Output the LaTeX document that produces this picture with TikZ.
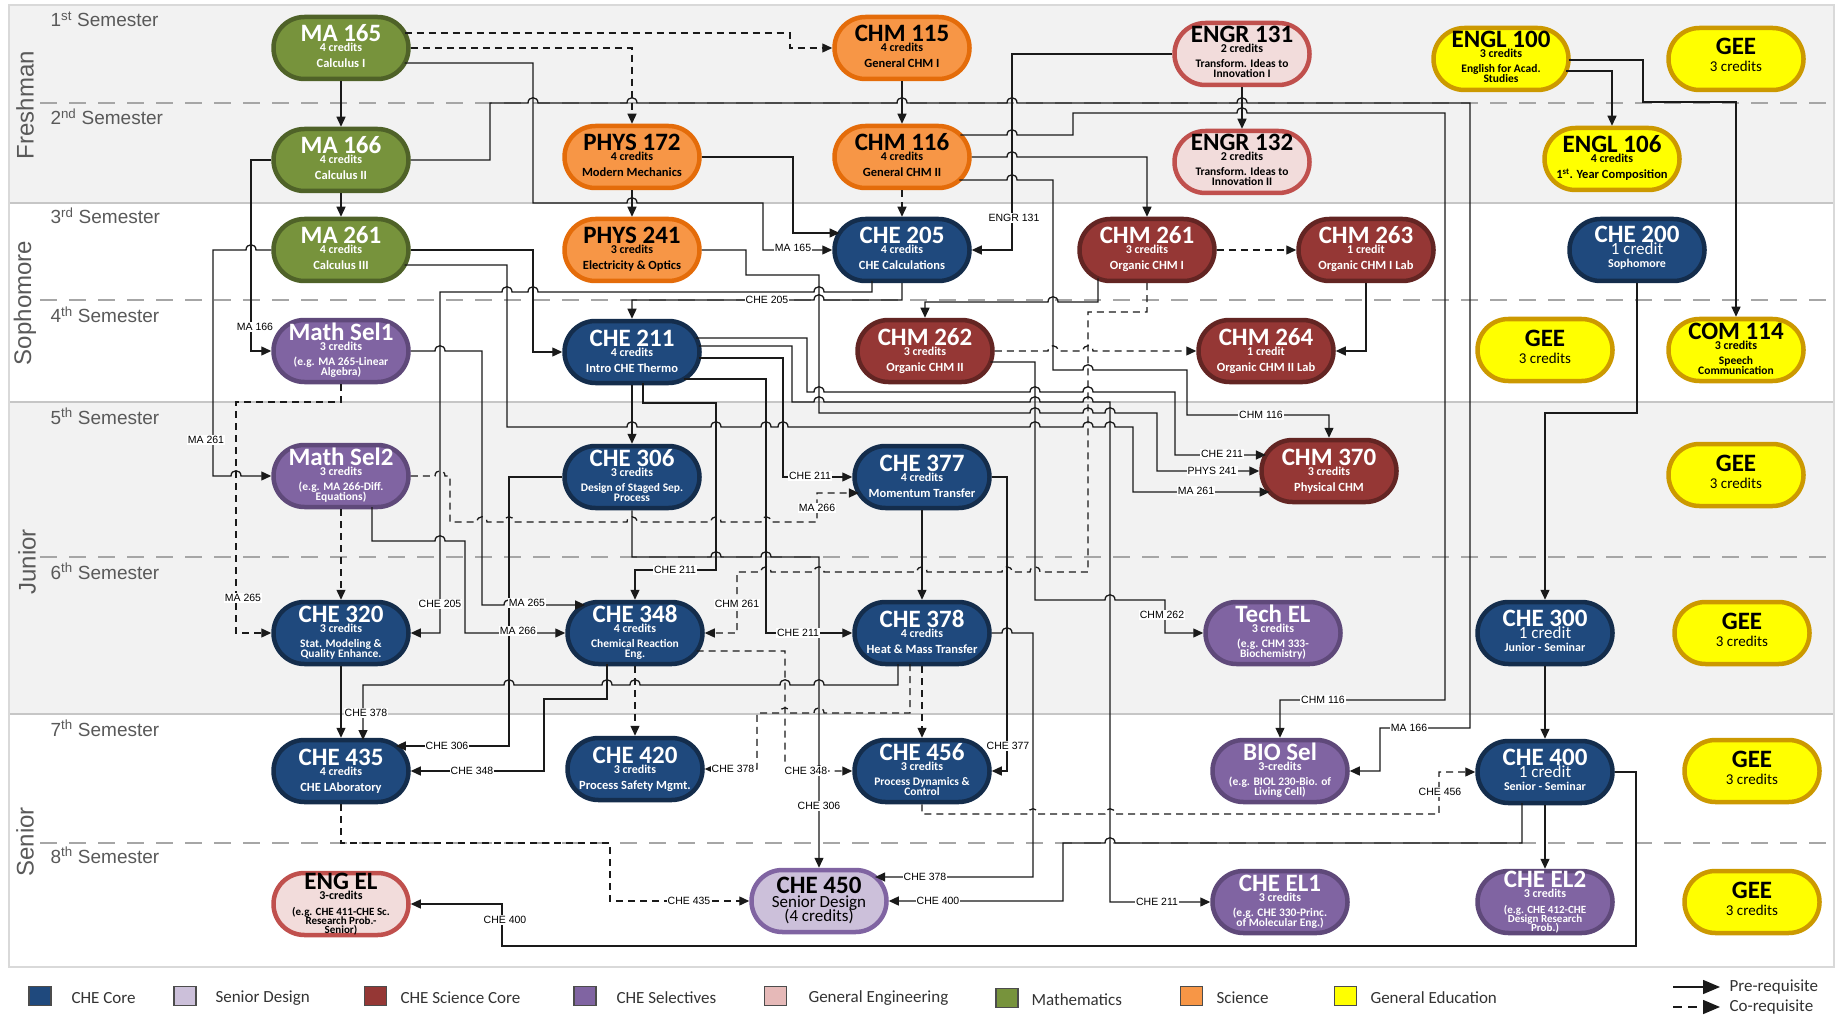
\documentclass[tikz,border=0pt]{standalone}
\usepackage{fontspec}
\setmainfont{Carlito}
\newfontfamily\arialf{Liberation Sans}
\usetikzlibrary{arrows.meta,calc}
\definecolor{coreF}{HTML}{1F497D}\definecolor{coreD}{HTML}{142D4C}
\definecolor{scF}{HTML}{953735}\definecolor{scD}{HTML}{632523}
\definecolor{mathF}{HTML}{77933C}\definecolor{mathD}{HTML}{4F6228}
\definecolor{sciF}{HTML}{F79646}\definecolor{sciD}{HTML}{E46C0A}
\definecolor{genF}{HTML}{F2DCDB}\definecolor{genD}{HTML}{C0504D}
\definecolor{selF}{HTML}{8064A2}\definecolor{selD}{HTML}{5F497A}
\definecolor{edF}{HTML}{FFFF00}\definecolor{edD}{HTML}{CC9900}
\definecolor{sdF}{HTML}{CCC0DA}\definecolor{sdD}{HTML}{8064A2}
\definecolor{bandG}{HTML}{F2F2F2}
\definecolor{semG}{HTML}{A6A6A6}
\definecolor{txtG}{HTML}{595959}
\definecolor{legP}{HTML}{E6B9B8}
\definecolor{lineK}{HTML}{1A1A1A}
\newcommand\fTtl{\fontsize{25}{25}\selectfont\bfseries}
\newcommand\fCrd{\fontsize{12}{12}\selectfont\bfseries}
\newcommand\fDsc{\fontsize{12.5}{12.5}\selectfont\bfseries}
\newcommand\fDsb{\fontsize{11.5}{11.5}\selectfont\bfseries}
\newcommand\fDsd{\fontsize{11}{11}\selectfont\bfseries}
\newcommand\fGcr{\fontsize{15}{15}\selectfont}
\newcommand\fSub{\fontsize{17}{17}\selectfont}
\newcommand\Ln[2]{\noalign{\kern#1pt}\smash{#2}\cr}
\newcommand\Block[1]{\makebox[0pt]{\vbox{\offinterlineskip\halign{\hfil##\hfil\cr#1}}}}
\newcommand\cA[3]{\Block{\Ln{14}{\fTtl #1}\Ln{10}{\fCrd #2}\Ln{16}{\fDsc #3}}}
\newcommand\cB[4]{\Block{\Ln{13}{\fTtl #1}\Ln{10}{\fCrd #2}\Ln{15}{\fDsb #3}\Ln{10}{\fDsb #4}}}
\newcommand\cC[5]{\Block{\Ln{14}{\fTtl #1}\Ln{10}{\fCrd #2}\Ln{16}{\fDsd #3}\Ln{9}{\fDsd #4}\Ln{9}{\fDsd #5}}}
\newcommand\cG{\Block{\Ln{9}{\fTtl GEE}\Ln{17}{\fGcr 3 credits}}}
\newcommand\cS[3]{\Block{\Ln{11}{\fTtl #1}\Ln{12}{\fSub #2}\Ln{13}{\fCrd #3}}}
\newcommand\pR[2]{($(#1.center)+({36.5+sqrt(961-(#2)*(#2))},#2)$)}
\newcommand\pL[2]{($(#1.center)+({-36.5-sqrt(961-(#2)*(#2))},#2)$)}
\newcommand\pB[2]{($(#1.center)+(#2,31)$)}
\newcommand\pT[2]{($(#1.center)+(#2,-31)$)}
\newcommand\hopR[2]{-- ({#1-5},#2) .. controls ({#1-5},{#2-7}) and ({#1+5},{#2-7}) .. ({#1+5},#2)}
\newcommand\hopL[2]{-- ({#1+5},#2) .. controls ({#1+5},{#2-7}) and ({#1-5},{#2-7}) .. ({#1-5},#2)}
\tikzset{
 crs/.style={rectangle, rounded corners=30.9pt, minimum width=135pt, minimum height=62pt, inner sep=0pt, line width=4.5pt},
 core/.style={crs, fill=coreF, draw=coreD, text=white},
 scico/.style={crs, fill=scF, draw=scD, text=white},
 mth/.style={crs, fill=mathF, draw=mathD, text=white},
 sci/.style={crs, fill=sciF, draw=sciD, text=black},
 geng/.style={crs, fill=genF, draw=genD, text=black},
 sel/.style={crs, fill=selF, draw=selD, text=white},
 gened/.style={crs, fill=edF, draw=edD, text=black},
 sdes/.style={crs, fill=sdF, draw=sdD, text=black},
 prq/.style={line width=1.3pt, draw=lineK, -{Triangle[length=10pt,width=9pt]}},
 coq/.style={prq, dash pattern=on 7pt off 5pt},
 lbl/.style={font=\arialf\fontsize{10.5}{10.5}\selectfont, fill=white, inner sep=1pt, text=black},
 semlab/.style={font=\arialf\fontsize{19}{19}\selectfont, text=txtG, anchor=base west},
 yrlab/.style={font=\arialf\fontsize{24}{24}\selectfont, text=txtG, rotate=90},
 legtxt/.style={font=\fontsize{17}{17}\selectfont, text=black!80, anchor=west},
 legsq/.style={draw=black!70, line width=1.5pt, minimum width=22pt, minimum height=19pt, inner sep=0pt},
}
\begin{document}
\begin{tikzpicture}[x=1pt,y=-1pt]
\useasboundingbox (0,0) rectangle (1839,1016);
\fill[white] (0,0) rectangle (1839,1016);
% bands
\fill[bandG] (9,5) rectangle (1834,203);
\fill[bandG] (9,402) rectangle (1834,714);
\draw[gray!45, line width=1.5pt] (9,203) -- (1834,203) (9,402) -- (1834,402) (9,714) -- (1834,714);
\draw[gray!30, line width=2pt] (9,5) rectangle (1834,967);
\draw[semG, line width=2.5pt, dash pattern=on 17pt off 12pt] (40,103) -- (1834,103) (40,300) -- (1834,300) (40,557) -- (1834,557) (40,843) -- (1834,843);
% year and semester labels
\node[yrlab] (y1) at (25,105) {Freshman};
\node[yrlab] (y2) at (25,303) {Sophomore};
\node[yrlab] (y3) at (27,562) {Junior};
\node[yrlab] (y4) at (25,842) {Senior};
\node[semlab] (s1) at (47,27) {1\textsuperscript{st} Semester};
\node[semlab] (s2) at (47,125) {2\textsuperscript{nd} Semester};
\node[semlab] (s3) at (47,224) {3\textsuperscript{rd} Semester};
\node[semlab] (s4) at (47,323) {4\textsuperscript{th} Semester};
\node[semlab] (s5) at (47,424) {5\textsuperscript{th} Semester};
\node[semlab] (s6) at (47,579) {6\textsuperscript{th} Semester};
\node[semlab] (s7) at (47,736) {7\textsuperscript{th} Semester};
\node[semlab] (s8) at (47,863) {8\textsuperscript{th} Semester};
% courses
\node[mth] (ma165) at (341,48) {\cA{MA 165}{4 credits}{Calculus I}};
\node[mth] (ma166) at (341,160) {\cA{MA 166}{4 credits}{Calculus II}};
\node[mth] (ma261) at (341,250) {\cA{MA 261}{4 credits}{Calculus III}};
\node[sel] (msel1) at (341,351) {\cB{Math Sel1}{3 credits}{(e.g. MA 265-Linear}{Algebra)}};
\node[sel] (msel2) at (341,476) {\cB{Math Sel2}{3 credits}{(e.g. MA 266-Diff.}{Equations)}};
\node[core] (che320) at (341,633) {\cB{CHE 320}{3 credits}{Stat. Modeling \&}{Quality Enhance.}};
\node[core] (che435) at (341,771) {\cA{CHE 435}{4 credits}{CHE LAboratory}};
\node[geng] (engel) at (341,904) {\cC{ENG EL}{3-credits}{(e.g. CHE 411-CHE Sc.}{Research Prob.-}{Senior)}};
\node[sci] (phys172) at (632,157) {\cA{PHYS 172}{4 credits}{Modern Mechanics}};
\node[sci] (phys241) at (632,250) {\cA{PHYS 241}{3 credits}{Electricity \& Optics}};
\node[core] (che211) at (632,352) {\cA{CHE 211}{4 credits}{Intro CHE Thermo}};
\node[core] (che306) at (632,477) {\cB{CHE 306}{3 credits}{Design of Staged Sep.}{Process}};
\node[core] (che348) at (635,633) {\cB{CHE 348}{4 credits}{Chemical Reaction}{Eng.}};
\node[core] (che420) at (635,769) {\cA{CHE 420}{3 credits}{Process Safety Mgmt.}};
\node[sdes] (che450) at (819,901) {\Block{\Ln{12}{\fTtl CHE 450}\Ln{14}{\fSub Senior Design}\Ln{14}{\fSub (4 credits)}}};
\node[sci] (chm115) at (902,48) {\cA{CHM 115}{4 credits}{General CHM I}};
\node[sci] (chm116) at (902,157) {\cA{CHM 116}{4 credits}{General CHM II}};
\node[core] (che205) at (902,250) {\cA{CHE 205}{4 credits}{CHE Calculations}};
\node[scico] (chm262) at (925,351) {\cA{CHM 262}{3 credits}{Organic CHM II}};
\node[core] (che377) at (922,477) {\cA{CHE 377}{4 credits}{Momentum Transfer}};
\node[core] (che378) at (922,633) {\cA{CHE 378}{4 credits}{Heat \& Mass Transfer}};
\node[core] (che456) at (922,771) {\cB{CHE 456}{3 credits}{Process Dynamics \&}{Control}};
\node[geng] (engr131) at (1242,54) {\cB{ENGR 131}{2 credits}{Transform. Ideas to}{Innovation I}};
\node[geng] (engr132) at (1242,162) {\cB{ENGR 132}{2 credits}{Transform. Ideas to}{Innovation II}};
\node[scico] (chm261) at (1147,250) {\cA{CHM 261}{3 credits}{Organic CHM I}};
\node[scico] (chm263) at (1366,250) {\cA{CHM 263}{1 credit}{Organic CHM I Lab}};
\node[scico] (chm264) at (1266,351) {\cA{CHM 264}{1 credit}{Organic CHM II Lab}};
\node[scico] (chm370) at (1329,471) {\cA{CHM 370}{3 credits}{Physical CHM}};
\node[sel] (techel) at (1273,633) {\cB{Tech EL}{3 credits}{(e.g. CHM 333-}{Biochemistry)}};
\node[sel] (biosel) at (1280,771) {\cB{BIO Sel}{3-credits}{(e.g. BIOL 230-Bio. of}{Living Cell)}};
\node[sel] (cheel1) at (1280,902) {\cB{CHE EL1}{3 credits}{(e.g. CHE 330-Princ.}{of Molecular Eng.)}};
\node[gened] (engl100) at (1501,59) {\cB{ENGL 100}{3 credits}{English for Acad.}{Studies}};
\node[gened] (gee1) at (1736,59) {\cG};
\node[gened] (engl106) at (1612,159) {\cA{ENGL 106}{4 credits}{1\textsuperscript{st}. Year Composition}};
\node[core] (che200) at (1637,250) {\cS{CHE 200}{1 credit}{Sophomore}};
\node[gened] (gee4) at (1545,350) {\cG};
\node[gened] (com114) at (1736,350) {\cB{COM 114}{3 credits}{Speech}{Communication}};
\node[gened] (gee5) at (1736,475) {\cG};
\node[core] (che300) at (1545,633) {\cS{CHE 300}{1 credit}{Junior - Seminar}};
\node[gened] (gee6) at (1742,633) {\cG};
\node[core] (che400) at (1545,772) {\cS{CHE 400}{1 credit}{Senior - Seminar}};
\node[gened] (gee7) at (1752,771) {\cG};
\node[sel] (cheel2) at (1545,902) {\cC{CHE EL2}{3 credits}{(e.g. CHE 412-CHE}{Design Research}{Prob.)}};
\node[gened] (gee8) at (1752,902) {\cG};
% connectors
\draw[prq] (ma165) -- (ma166);
\draw[prq] (ma166) -- (ma261);
\draw[coq] \pR{ma165}{-15} -- (790,33) -- (790,48) -- (chm115.west);
\draw[coq] (ma165.east) -- (632,48) -- (phys172.north);
\draw[prq] \pR{ma165}{15} -- (533,63) -- (533,203) \hopR{632}{203} -- (763,203) -- (763,250) -- (che205.west);
\draw[prq] (ma166.east) -- (490,160) -- (490,103) \hopR{533}{103} \hopR{632}{103} \hopR{902}{103} \hopR{1012}{103} \hopR{1242}{103} -- (1470,103) -- (1470,728) -- (1380,728) -- (1380,771) -- (biosel.east);
\draw[prq] (ma166.west) -- (251,160) -- (251,351) -- (msel1.west);
\draw[prq] (ma261.west) \hopL{251}{250} -- (213,250) -- (213,476) \hopR{236}{476} -- (msel2.west);
\draw[prq] (ma261.east) -- (533,250) -- (533,352) -- (che211.west);
\draw[prq] \pR{ma261}{15} -- (507,265) -- (507,427) \hopR{632}{427} \hopR{716}{427} \hopR{766}{427} \hopR{783}{427} \hopR{1035}{427} \hopR{1088}{427} \hopR{1110}{427} -- (1133,427) -- (1133,492) -- \pL{chm370}{21};
\draw[coq] (msel1.south) -- (341,402) -- (236,402) -- (236,633) -- (che320.west);
\draw[prq] (msel1.east) \hopR{440}{351} -- (482,351) -- (482,605) \hopR{509}{605} -- \pL{che348}{-28};
\draw[coq] (msel2) -- (che320);
\draw[coq] (msel2.east) \hopR{440}{476} -- (450,476) -- (450,522) \hopR{482}{522} \hopR{509}{522} \hopR{632}{522} \hopR{716}{522} \hopR{766}{522} -- (817,522) -- (817,493) -- \pL{che377}{16};
\draw[prq] \pB{msel2}{31} -- (372,541) \hopR{440}{541} -- (465,541) -- (465,633) \hopR{509}{633} -- (che348.west);
\draw[prq] \pB{che205}{-30} -- (872,292) \hopL{819}{292} \hopL{533}{292} \hopL{507}{292} -- (440,292) -- (440,633) -- (che320.east);
\draw[prq] (che205.south) -- (902,300) \hopL{819}{300} -- (632,300) -- (che211.north);
\draw[prq] (phys172) -- (phys241);
\draw[prq] (phys172.east) -- (793,157) -- (793,233) -- \pL{che205}{-17};
\draw[prq] (phys241.east) -- (746,250) -- (746,275) -- (819,275) -- (819,413) \hopR{1035}{413} \hopR{1088}{413} \hopR{1110}{413} -- (1157,413) -- (1157,471) -- (chm370.west);
\draw[prq] (chm115) -- (chm116);
\draw[coq] (chm116) -- (che205);
\draw[prq] \pR{chm116}{-22} \hopR{1012}{135} -- (1073,135) -- (1073,113) \hopR{1242}{113} -- (1445,113) -- (1445,700) -- (1280,700) -- (biosel.north);
\draw[prq] (chm116.east) \hopR{1012}{157} -- (1147,157) -- (chm261.north);
\draw[prq] \pR{chm116}{23} \hopR{1012}{180} -- (1053,180) -- (1053,370) \hopR{1088}{370} -- (1187,370) -- (1187,415) -- (1329,415) -- (chm370.north);
\draw[prq] (engr131.west) -- (1012,54) -- (1012,250) -- (che205.east);
\draw[prq] (engr131) -- (engr132);
\draw[coq] (chm261) -- (chm263);
\draw[prq] ($(chm261.center)+(-49,28.4)$) -- (1098,302) \hopL{1053}{302} -- (925,302) -- (chm262.north);
\draw[coq] (chm261.south) -- (1147,312) -- (1088,312) -- (1088,572) \hopL{1035}{572} \hopL{1007}{572} \hopL{922}{572} \hopL{819}{572} \hopL{766}{572} -- (737,572) -- (737,633) -- (che348.east);
\draw[coq] (chm262.east) \hopR{1053}{351} \hopR{1088}{351} -- (chm264.west);
\draw[prq] (chm263.south) -- (1366,351) -- (chm264.east);
\draw[prq] \pR{chm262}{11} -- (1035,362) -- (1035,600) \hopR{1110}{600} -- (1165,600) -- (1165,633) -- (techel.west);
\draw[prq] \pR{che211}{-14} -- (807,338) -- (807,392) \hopR{819}{392} \hopR{1035}{392} \hopR{1088}{392} -- (1175,392) -- (1175,455) -- \pL{chm370}{-16};
\draw[prq] \pR{che211}{-6} -- (792,346) -- (792,402) \hopR{819}{402} \hopR{1035}{402} \hopR{1088}{402} -- (1110,402) -- (1110,902) -- (cheel1.west);
\draw[prq] \pR{che211}{6} -- (783,358) -- (783,477) -- (che377.west);
\draw[prq] \pR{che211}{27} -- (766,379) -- (766,633) -- (che378.west);
\draw[prq] \pB{che211}{11} -- (643,403) -- (716,403) -- (716,570) -- (635,570) -- (che348.north);
\draw[prq] (che211) -- (che306);
\draw[prq] (che306.west) -- (509,477) -- (509,746) -- \pR{che435}{-25};
\draw[prq] (che306.south) -- (632,557) \hopR{716}{557} \hopR{766}{557} -- (819,557) -- (che450.north);
\draw[prq] (che320) -- (che435);
\draw[prq] \pB{che348}{-28} -- (607,699) -- (544,699) -- (544,771) -- (che435.east);
\draw[coq] (che348) -- (che420);
\draw[coq] \pR{che348}{18} -- (785,651) -- (785,771) \hopR{819}{771} -- (che456.west);
\draw[prq] (che377) -- (che378);
\draw[prq] (che377.east) -- (1007,477) -- (1007,771) -- (che456.east);
\draw[prq] \pB{che378}{-24} -- (898,685) \hopL{819}{685} \hopL{785}{685} \hopL{635}{685} \hopL{607}{685} \hopL{509}{685} -- (363,685) -- \pT{che435}{22};
\draw[coq] \pB{che378}{-12} -- (910,713) \hopL{819}{713} \hopL{785}{713} -- (757,713) -- (757,769) -- (che420.east);
\draw[coq] (che378) -- (che456);
\draw[prq] (che378.east) \hopR{1007}{633} -- (1033,633) -- (1033,877) -- \pR{che450}{-24};
\draw[coq] (che435.south) -- (341,843) -- (610,843) -- (610,901) -- (che450.west);
\draw[prq] \pB{che400}{-23} -- (1522,843) \hopL{1110}{843} -- (1063,843) -- (1063,901) -- (che450.east);
\draw[prq] (che400.east) -- (1636,772) -- (1636,946) -- (502,946) -- (502,904) -- (engel.east);
\draw[prq] (che400) -- (cheel2);
\draw[prq] (che300) -- (che400);
\draw[coq] (che456.south) -- (922,814) \hopR{1033}{814} \hopR{1110}{814} -- (1439,814) -- (1439,772) -- (che400.west);
\draw[prq] (che200.south) -- (1637,413) -- (1545,413) -- (che300.north);
\draw[prq] \pR{engl100}{12} -- (1612,71) -- (engl106.north);
\draw[prq] \pR{engl100}{1} -- (1643,60) -- (1643,102) -- (1736,102) -- (com114.north);
% connector labels
\node[lbl] (t1) at (793,248) {MA 165};
\node[lbl] (t2) at (1014,218) {ENGR 131};
\node[lbl] (t3) at (767,300) {CHE 205};
\node[lbl] (t4) at (255,327) {MA 166};
\node[lbl] (t5) at (206,440) {MA 261};
\node[lbl] (t6) at (243,598) {MA 265};
\node[lbl] (t7) at (440,604) {CHE 205};
\node[lbl] (t8) at (527,603) {MA 265};
\node[lbl] (t9) at (518,631) {MA 266};
\node[lbl] (t10) at (675,570) {CHE 211};
\node[lbl] (t11) at (737,604) {CHM 261};
\node[lbl] (t12) at (798,633) {CHE 211};
\node[lbl] (t13) at (810,476) {CHE 211};
\node[lbl] (t14) at (817,508) {MA 266};
\node[lbl] (t15) at (1261,415) {CHM 116};
\node[lbl] (t16) at (1222,454) {CHE 211};
\node[lbl] (t17) at (1212,471) {PHYS 241};
\node[lbl] (t18) at (1196,491) {MA 261};
\node[lbl] (t19) at (1162,615) {CHM 262};
\node[lbl] (t20) at (366,713) {CHE 378};
\node[lbl] (t21) at (447,746) {CHE 306};
\node[lbl] (t22) at (472,771) {CHE 348};
\node[lbl] (t23) at (733,769) {CHE 378};
\node[lbl] (t24) at (806,771) {CHE 348};
\node[lbl] (t25) at (819,806) {CHE 306};
\node[lbl] (t26) at (689,901) {CHE 435};
\node[lbl] (t27) at (505,920) {CHE 400};
\node[lbl] (t28) at (1008,746) {CHE 377};
\node[lbl] (t29) at (925,877) {CHE 378};
\node[lbl] (t30) at (938,901) {CHE 400};
\node[lbl] (t31) at (1157,902) {CHE 211};
\node[lbl] (t32) at (1323,700) {CHM 116};
\node[lbl] (t33) at (1409,728) {MA 166};
\node[lbl] (t34) at (1440,792) {CHE 456};
% legend
\node[legsq, fill=coreF] (k1) at (40,996) {};
\node[legtxt] (k1t) at (68,998) {CHE Core};
\node[legsq, fill=sdF] (k2) at (185,996) {};
\node[legtxt] (k2t) at (212,998) {Senior Design};
\node[legsq, fill=scF] (k3) at (375.5,996) {};
\node[legtxt] (k3t) at (397,998) {CHE Science Core};
\node[legsq, fill=selF] (k4) at (585,996) {};
\node[legtxt] (k4t) at (613,998) {CHE Selectives};
\node[legsq, fill=legP] (k5) at (775.5,996) {};
\node[legtxt] (k5t) at (805,998) {General Engineering};
\node[legsq, fill=mathF] (k6) at (1007,998) {};
\node[legtxt] (k6t) at (1028,1000) {Mathematics};
\node[legsq, fill=sciF] (k7) at (1191.5,996) {};
\node[legtxt] (k7t) at (1213,998) {Science};
\node[legsq, fill=edF] (k8) at (1345.5,996) {};
\node[legtxt] (k8t) at (1367,998) {General Education};
\coordinate (pa) at (1673,987); \coordinate (pb) at (1720,987);
\coordinate (ca) at (1673,1007); \coordinate (cb) at (1720,1007);
\draw[line width=1.5pt, draw=lineK, -{Triangle[length=17pt,width=14pt]}] (pa) -- (pb);
\draw[line width=1.5pt, draw=lineK, dash pattern=on 9pt off 6pt, -{Triangle[length=17pt,width=14pt]}] (ca) -- (cb);
\node[legtxt] (kp) at (1726,987) {Pre-requisite};
\node[legtxt] (kc) at (1726,1007) {Co-requisite};
\end{tikzpicture}
\end{document}
